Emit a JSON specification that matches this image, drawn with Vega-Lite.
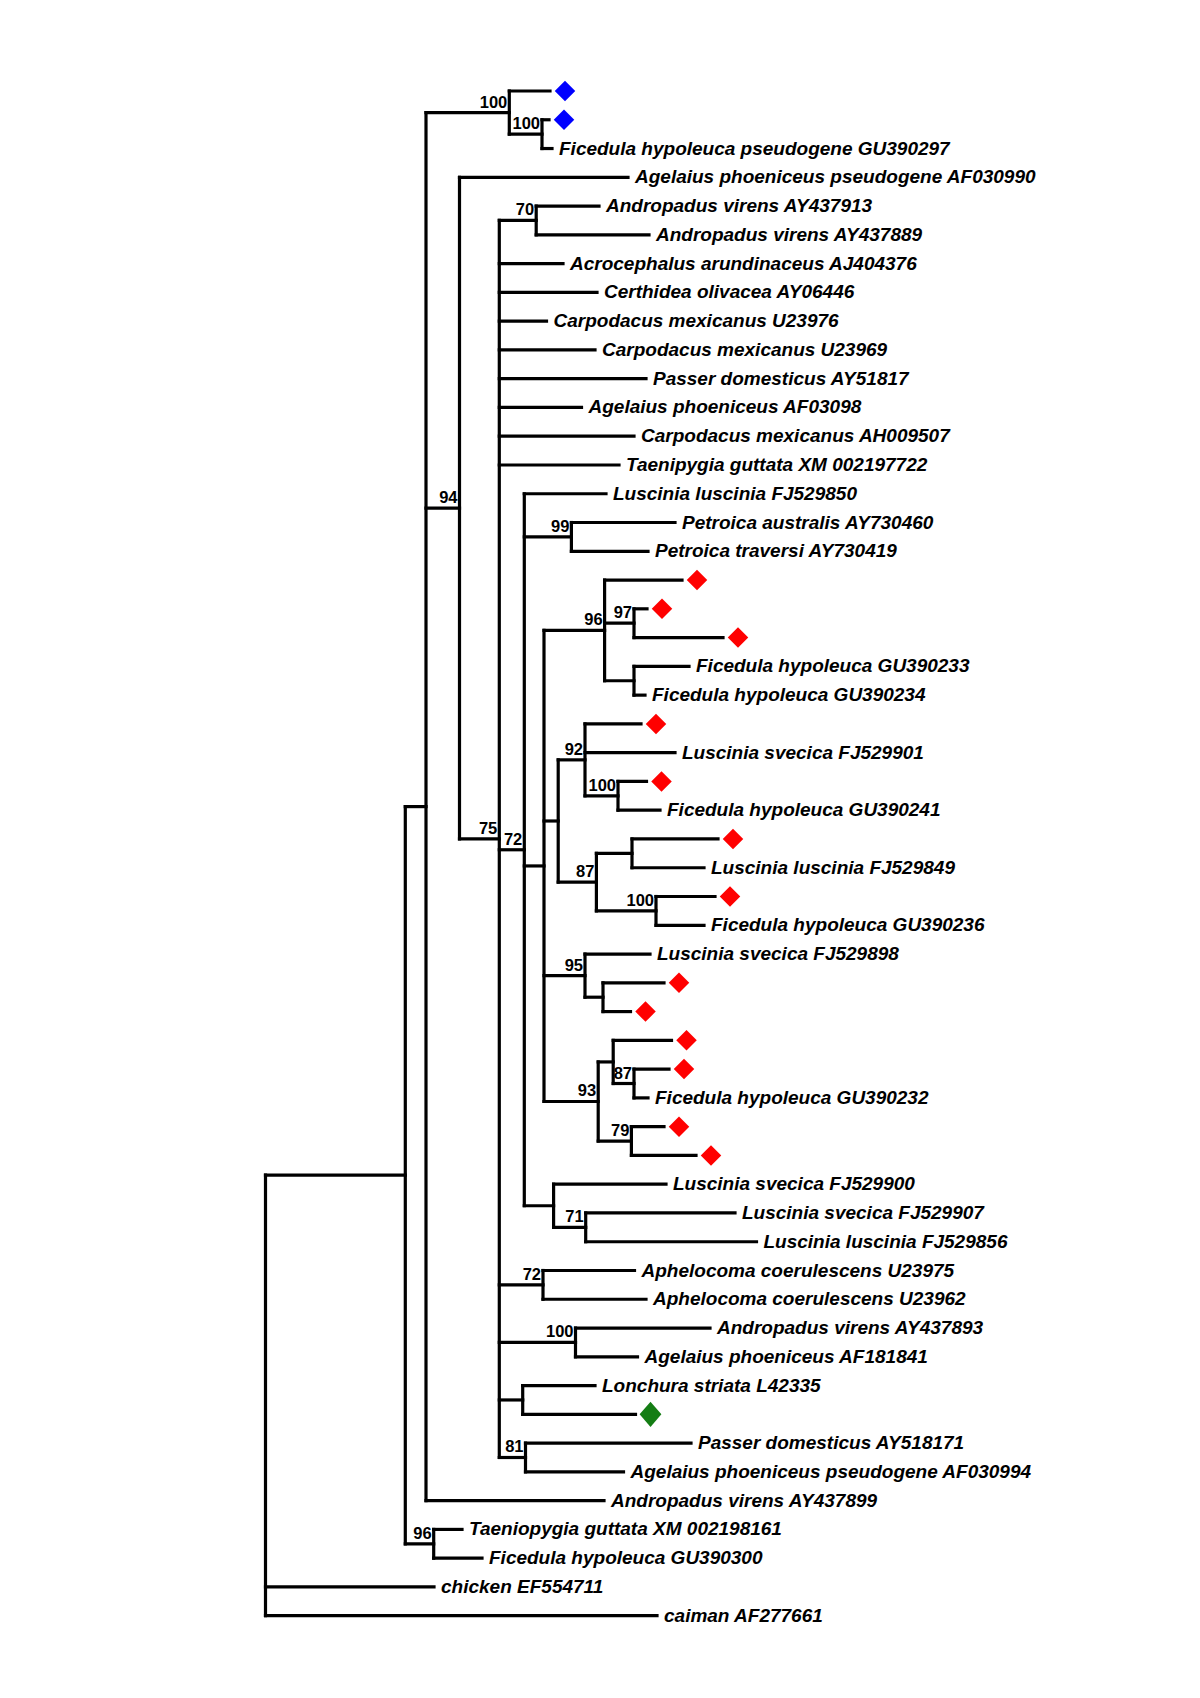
{
  "$schema": "https://vega.github.io/schema/vega-lite/v6.json",
  "width": 1200,
  "height": 1698,
  "autosize": {"type": "none"},
  "padding": 0,
  "background": "white",
  "config": {"view": {"stroke": null}},
  "datasets": {
    "tree": [
      {"id": "Root", "parent": null, "x": 265.5, "y": 45.34, "name": null, "boot": null, "marker": null},
      {"id": "I", "parent": "Root", "x": 405.3, "y": 37.6875, "name": null, "boot": null, "marker": null},
      {"id": "A", "parent": "I", "x": 426, "y": 24.875, "name": null, "boot": null, "marker": null},
      {"id": "B", "parent": "A", "x": 509.3, "y": 0.75, "name": null, "boot": 100, "marker": null},
      {"id": "B2", "parent": "B", "x": 542, "y": 1.5, "name": null, "boot": 100, "marker": null},
      {"id": "N94", "parent": "A", "x": 459.5, "y": 14.5, "name": null, "boot": 94, "marker": null},
      {"id": "N75", "parent": "N94", "x": 499.3, "y": 26.0, "name": null, "boot": 75, "marker": null},
      {"id": "N70", "parent": "N75", "x": 536.2, "y": 4.5, "name": null, "boot": 70, "marker": null},
      {"id": "N72", "parent": "N75", "x": 524.3, "y": 26.375, "name": null, "boot": 72, "marker": null},
      {"id": "N99", "parent": "N72", "x": 571.4, "y": 15.5, "name": null, "boot": 99, "marker": null},
      {"id": "NC", "parent": "N72", "x": 544, "y": 26.9375, "name": null, "boot": null, "marker": null},
      {"id": "N96", "parent": "NC", "x": 604.6, "y": 18.75, "name": null, "boot": 96, "marker": null},
      {"id": "N97", "parent": "N96", "x": 634, "y": 18.5, "name": null, "boot": 97, "marker": null},
      {"id": "NG", "parent": "N96", "x": 634, "y": 20.5, "name": null, "boot": null, "marker": null},
      {"id": "P", "parent": "NC", "x": 558.2, "y": 25.375, "name": null, "boot": null, "marker": null},
      {"id": "N92", "parent": "P", "x": 585, "y": 23.25, "name": null, "boot": 92, "marker": null},
      {"id": "N100a", "parent": "N92", "x": 618, "y": 24.5, "name": null, "boot": 100, "marker": null},
      {"id": "N87", "parent": "P", "x": 596.4, "y": 27.5, "name": null, "boot": 87, "marker": null},
      {"id": "Q", "parent": "N87", "x": 632, "y": 26.5, "name": null, "boot": null, "marker": null},
      {"id": "N100b", "parent": "N87", "x": 656, "y": 28.5, "name": null, "boot": 100, "marker": null},
      {"id": "N95", "parent": "NC", "x": 585, "y": 30.75, "name": null, "boot": 95, "marker": null},
      {"id": "NX", "parent": "N95", "x": 603, "y": 31.5, "name": null, "boot": null, "marker": null},
      {"id": "N93", "parent": "NC", "x": 598.2, "y": 35.125, "name": null, "boot": 93, "marker": null},
      {"id": "R", "parent": "N93", "x": 613.2, "y": 33.75, "name": null, "boot": null, "marker": null},
      {"id": "N87b", "parent": "R", "x": 634, "y": 34.5, "name": null, "boot": 87, "marker": null},
      {"id": "N79", "parent": "N93", "x": 631.4, "y": 36.5, "name": null, "boot": 79, "marker": null},
      {"id": "S", "parent": "N72", "x": 553.6, "y": 38.75, "name": null, "boot": null, "marker": null},
      {"id": "N71", "parent": "S", "x": 585.7, "y": 39.5, "name": null, "boot": 71, "marker": null},
      {"id": "N72b", "parent": "N75", "x": 543, "y": 41.5, "name": null, "boot": 72, "marker": null},
      {"id": "N100c", "parent": "N75", "x": 575.5, "y": 43.5, "name": null, "boot": 100, "marker": null},
      {"id": "NL", "parent": "N75", "x": 522.7, "y": 45.5, "name": null, "boot": null, "marker": null},
      {"id": "N81", "parent": "N75", "x": 525.5, "y": 47.5, "name": null, "boot": 81, "marker": null},
      {"id": "N96b", "parent": "I", "x": 433.7, "y": 50.5, "name": null, "boot": 96, "marker": null},
      {"id": "L0", "parent": "B", "x": 550, "y": 0, "name": null, "boot": null, "marker": "blue"},
      {"id": "L1", "parent": "B2", "x": 549, "y": 1, "name": null, "boot": null, "marker": "blue"},
      {"id": "L2", "parent": "B2", "x": 552, "y": 2, "name": "Ficedula hypoleuca pseudogene GU390297", "boot": null, "marker": null},
      {"id": "L3", "parent": "N94", "x": 628, "y": 3, "name": "Agelaius phoeniceus pseudogene AF030990", "boot": null, "marker": null},
      {"id": "L4", "parent": "N70", "x": 599, "y": 4, "name": "Andropadus virens AY437913", "boot": null, "marker": null},
      {"id": "L5", "parent": "N70", "x": 649, "y": 5, "name": "Andropadus virens AY437889", "boot": null, "marker": null},
      {"id": "L6", "parent": "N75", "x": 563, "y": 6, "name": "Acrocephalus arundinaceus AJ404376", "boot": null, "marker": null},
      {"id": "L7", "parent": "N75", "x": 597, "y": 7, "name": "Certhidea olivacea AY06446", "boot": null, "marker": null},
      {"id": "L8", "parent": "N75", "x": 546.5, "y": 8, "name": "Carpodacus mexicanus U23976", "boot": null, "marker": null},
      {"id": "L9", "parent": "N75", "x": 595, "y": 9, "name": "Carpodacus mexicanus U23969", "boot": null, "marker": null},
      {"id": "L10", "parent": "N75", "x": 646, "y": 10, "name": "Passer domesticus AY51817", "boot": null, "marker": null},
      {"id": "L11", "parent": "N75", "x": 581.5, "y": 11, "name": "Agelaius phoeniceus AF03098", "boot": null, "marker": null},
      {"id": "L12", "parent": "N75", "x": 634, "y": 12, "name": "Carpodacus mexicanus AH009507", "boot": null, "marker": null},
      {"id": "L13", "parent": "N75", "x": 619, "y": 13, "name": "Taenipygia guttata XM 002197722", "boot": null, "marker": null},
      {"id": "L14", "parent": "N72", "x": 606, "y": 14, "name": "Luscinia luscinia FJ529850", "boot": null, "marker": null},
      {"id": "L15", "parent": "N99", "x": 675, "y": 15, "name": "Petroica australis AY730460", "boot": null, "marker": null},
      {"id": "L16", "parent": "N99", "x": 648, "y": 16, "name": "Petroica traversi AY730419", "boot": null, "marker": null},
      {"id": "L17", "parent": "N96", "x": 682, "y": 17, "name": null, "boot": null, "marker": "red"},
      {"id": "L18", "parent": "N97", "x": 647, "y": 18, "name": null, "boot": null, "marker": "red"},
      {"id": "L19", "parent": "N97", "x": 723, "y": 19, "name": null, "boot": null, "marker": "red"},
      {"id": "L20", "parent": "NG", "x": 689, "y": 20, "name": "Ficedula hypoleuca GU390233", "boot": null, "marker": null},
      {"id": "L21", "parent": "NG", "x": 645, "y": 21, "name": "Ficedula hypoleuca GU390234", "boot": null, "marker": null},
      {"id": "L22", "parent": "N92", "x": 641, "y": 22, "name": null, "boot": null, "marker": "red"},
      {"id": "L23", "parent": "N92", "x": 675, "y": 23, "name": "Luscinia svecica FJ529901", "boot": null, "marker": null},
      {"id": "L24", "parent": "N100a", "x": 646.5, "y": 24, "name": null, "boot": null, "marker": "red"},
      {"id": "L25", "parent": "N100a", "x": 660, "y": 25, "name": "Ficedula hypoleuca GU390241", "boot": null, "marker": null},
      {"id": "L26", "parent": "Q", "x": 718, "y": 26, "name": null, "boot": null, "marker": "red"},
      {"id": "L27", "parent": "Q", "x": 704, "y": 27, "name": "Luscinia luscinia FJ529849", "boot": null, "marker": null},
      {"id": "L28", "parent": "N100b", "x": 715, "y": 28, "name": null, "boot": null, "marker": "red"},
      {"id": "L29", "parent": "N100b", "x": 704, "y": 29, "name": "Ficedula hypoleuca GU390236", "boot": null, "marker": null},
      {"id": "L30", "parent": "N95", "x": 650, "y": 30, "name": "Luscinia svecica FJ529898", "boot": null, "marker": null},
      {"id": "L31", "parent": "NX", "x": 664, "y": 31, "name": null, "boot": null, "marker": "red"},
      {"id": "L32", "parent": "NX", "x": 630.5, "y": 32, "name": null, "boot": null, "marker": "red"},
      {"id": "L33", "parent": "R", "x": 671.5, "y": 33, "name": null, "boot": null, "marker": "red"},
      {"id": "L34", "parent": "N87b", "x": 669, "y": 34, "name": null, "boot": null, "marker": "red"},
      {"id": "L35", "parent": "N87b", "x": 648, "y": 35, "name": "Ficedula hypoleuca GU390232", "boot": null, "marker": null},
      {"id": "L36", "parent": "N79", "x": 664, "y": 36, "name": null, "boot": null, "marker": "red"},
      {"id": "L37", "parent": "N79", "x": 696, "y": 37, "name": null, "boot": null, "marker": "red"},
      {"id": "L38", "parent": "S", "x": 666, "y": 38, "name": "Luscinia svecica FJ529900", "boot": null, "marker": null},
      {"id": "L39", "parent": "N71", "x": 735, "y": 39, "name": "Luscinia svecica FJ529907", "boot": null, "marker": null},
      {"id": "L40", "parent": "N71", "x": 756.5, "y": 40, "name": "Luscinia luscinia FJ529856", "boot": null, "marker": null},
      {"id": "L41", "parent": "N72b", "x": 634.5, "y": 41, "name": "Aphelocoma coerulescens U23975", "boot": null, "marker": null},
      {"id": "L42", "parent": "N72b", "x": 646, "y": 42, "name": "Aphelocoma coerulescens U23962", "boot": null, "marker": null},
      {"id": "L43", "parent": "N100c", "x": 710, "y": 43, "name": "Andropadus virens AY437893", "boot": null, "marker": null},
      {"id": "L44", "parent": "N100c", "x": 637.5, "y": 44, "name": "Agelaius phoeniceus AF181841", "boot": null, "marker": null},
      {"id": "L45", "parent": "NL", "x": 595, "y": 45, "name": "Lonchura striata L42335", "boot": null, "marker": null},
      {"id": "L46", "parent": "NL", "x": 635.5, "y": 46, "name": null, "boot": null, "marker": "green"},
      {"id": "L47", "parent": "N81", "x": 691, "y": 47, "name": "Passer domesticus AY518171", "boot": null, "marker": null},
      {"id": "L48", "parent": "N81", "x": 623.5, "y": 48, "name": "Agelaius phoeniceus pseudogene AF030994", "boot": null, "marker": null},
      {"id": "L49", "parent": "A", "x": 604, "y": 49, "name": "Andropadus virens AY437899", "boot": null, "marker": null},
      {"id": "L50", "parent": "N96b", "x": 462, "y": 50, "name": "Taeniopygia guttata XM 002198161", "boot": null, "marker": null},
      {"id": "L51", "parent": "N96b", "x": 482, "y": 51, "name": "Ficedula hypoleuca GU390300", "boot": null, "marker": null},
      {"id": "L52", "parent": "Root", "x": 434, "y": 52, "name": "chicken EF554711", "boot": null, "marker": null},
      {"id": "L53", "parent": "Root", "x": 657, "y": 53, "name": "caiman AF277661", "boot": null, "marker": null}
    ]
  },
  "data": {"name": "tree"},
  "layer": [
    {
      "transform": [
        {"filter": "datum.parent != null"},
        {"lookup": "parent", "from": {"data": {"name": "tree"}, "key": "id", "fields": ["x"]}, "as": ["px"]}
      ],
      "mark": {"type": "rule", "strokeWidth": 3.2, "color": "#000000", "strokeCap": "square"},
      "encoding": {
        "x": {"field": "px", "type": "quantitative", "scale": {"domain": [0, 1200], "nice": false, "zero": false}, "axis": null},
        "x2": {"field": "x"},
        "y": {"field": "y", "type": "quantitative", "scale": {"domain": [-3.163, 55.86], "reverse": true, "nice": false, "zero": false}, "axis": null}
      }
    },
    {
      "transform": [
        {"filter": "datum.parent != null"},
        {"aggregate": [{"op": "min", "field": "y", "as": "y0"}, {"op": "max", "field": "y", "as": "y1"}], "groupby": ["parent"]},
        {"lookup": "parent", "from": {"data": {"name": "tree"}, "key": "id", "fields": ["x"]}, "as": ["px"]}
      ],
      "mark": {"type": "rule", "strokeWidth": 3.2, "color": "#000000", "strokeCap": "square"},
      "encoding": {
        "x": {"field": "px", "type": "quantitative", "scale": {"domain": [0, 1200], "nice": false, "zero": false}, "axis": null},
        "y": {"field": "y0", "type": "quantitative", "scale": {"domain": [-3.163, 55.86], "reverse": true, "nice": false, "zero": false}, "axis": null},
        "y2": {"field": "y1"}
      }
    },
    {
      "transform": [{"filter": "datum.name != null"}],
      "mark": {"type": "text", "align": "left", "baseline": "middle", "dx": 7, "font": "Liberation Sans", "fontSize": 19, "fontWeight": "bold", "fontStyle": "italic", "color": "#000000"},
      "encoding": {
        "x": {"field": "x", "type": "quantitative"},
        "y": {"field": "y", "type": "quantitative"},
        "text": {"field": "name"}
      }
    },
    {
      "transform": [{"filter": "datum.boot != null"}],
      "mark": {"type": "text", "align": "right", "baseline": "alphabetic", "dx": -2, "dy": -5, "font": "Liberation Sans Narrow, Liberation Sans", "fontSize": 16.5, "fontWeight": "bold", "color": "#000000"},
      "encoding": {
        "x": {"field": "x", "type": "quantitative"},
        "y": {"field": "y", "type": "quantitative"},
        "text": {"field": "boot", "type": "quantitative"}
      }
    },
    {
      "transform": [{"filter": "datum.marker != null"}],
      "mark": {"type": "point", "filled": true, "opacity": 1, "xOffset": 15},
      "encoding": {
        "x": {"field": "x", "type": "quantitative"},
        "y": {"field": "y", "type": "quantitative"},
        "color": {"field": "marker", "type": "nominal", "scale": {"domain": ["blue", "red", "green"], "range": ["#0000ff", "#ff0000", "#147d14"]}, "legend": null},
        "shape": {"condition": {"test": "datum.marker == 'green'", "value": "M-0.86,0L0,-1L0.86,0L0,1Z"}, "value": "diamond"},
        "size": {"condition": {"test": "datum.marker == 'green'", "value": 640}, "value": 420}
      }
    }
  ]
}
